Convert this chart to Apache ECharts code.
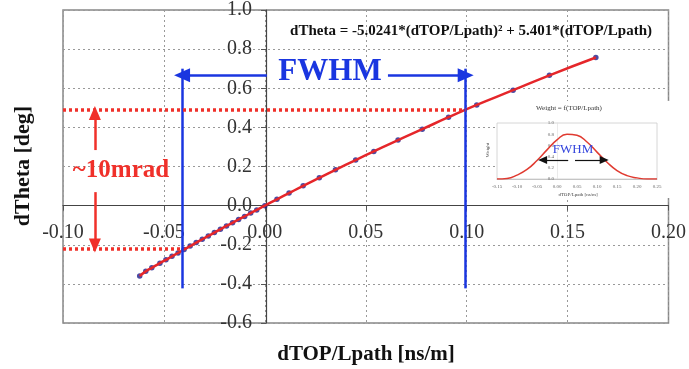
<!DOCTYPE html>
<html><head><meta charset="utf-8">
<script src="https://cdn.jsdelivr.net/npm/echarts@6.0.0/dist/echarts.min.js"></script>
<style>html,body{margin:0;padding:0;background:#fff}#c{width:689px;height:369px}</style>
</head><body><div id="c"></div>
<script>
// main data points (dTOP/Lpath, dTheta)
const pointX = [-0.062,-0.059,-0.056,-0.052,-0.049,-0.046,-0.043,-0.040,-0.037,-0.034,-0.031,-0.028,-0.025,-0.022,-0.019,-0.016,-0.013,-0.010,-0.007,-0.004,0.000,0.006,0.012,0.019,0.027,0.035,0.045,0.054,0.066,0.078,0.091,0.105,0.123,0.141,0.164];
const pointY = [-0.360,-0.336,-0.318,-0.294,-0.277,-0.259,-0.242,-0.224,-0.207,-0.189,-0.172,-0.155,-0.138,-0.121,-0.104,-0.088,-0.071,-0.055,-0.038,-0.022,0.000,0.032,0.064,0.101,0.142,0.183,0.233,0.277,0.335,0.391,0.452,0.515,0.590,0.666,0.757];
// inset weight distribution
const weightX = [-0.15,-0.125,-0.10,-0.075,-0.05,-0.025,0.0,0.025,0.05,0.075,0.10,0.125,0.15,0.175,0.20,0.225,0.25];
const weightY = [0.0,0.01,0.07,0.17,0.33,0.52,0.70,0.80,0.78,0.66,0.48,0.30,0.15,0.06,0.02,0.0,0.0];
// annotation values
const fwhmLow = -0.041, fwhmHigh = 0.0995;
const fwhmTop = 0.70, fwhmBottom = -0.423, fwhmArrowY = 0.667;
const fwhmArrowStart = [0.001, 0.061];
const thetaLow = -0.222, thetaHigh = 0.489;
const mradX = -0.0842, mradUp = [0.284, 0.474], mradDown = [0.069, -0.204];
const insetArrowY = 0.34, insetArrow = [0.028, -0.036, 0.045, 0.118];

const serif = 'Liberation Serif';
const blue = '#1a36e0', red = '#f0302a';
const chart = echarts.init(document.getElementById('c'));

function seg(a, b, color, width, type, endSym, size) {
  return [
    {coord: a, symbol: 'none', lineStyle: {color: color, width: width, type: type}},
    {coord: b, symbol: endSym || 'none', symbolSize: size || 12}
  ];
}

// main grid geometry: 63..672 x, 10..323 y; axes cross at x=0 and y=0
const G = {left: 63, right: 17, top: 10, bottom: 46};
const gw = 689 - G.left - G.right, gh = 369 - G.top - G.bottom;
const xZeroOffset = -(gw * (0 - -0.1) / 0.3);
const yZeroOffset = -(gh * (0 - -0.6) / 1.6);

chart.setOption({
  animation: false,
  grid: [
    Object.assign({show: true, borderColor: '#888', borderWidth: 1.5, containLabel: false}, G),
    {left: 497, width: 160, top: 123, height: 56, show: true, borderColor: '#ccc', borderWidth: 0.8, z: 3, containLabel: false}
  ],
  xAxis: [
    {type: 'value', gridIndex: 0, min: -0.1, max: 0.2, interval: 0.05, position: 'bottom', offset: yZeroOffset,
     axisLine: {onZero: false, lineStyle: {color: '#444', width: 1.2}},
     axisTick: {show: true, length: 5, lineStyle: {color: '#555'}},
     axisLabel: {fontFamily: serif, fontSize: 20, color: '#333', margin: 17, formatter: v => v.toFixed(2)},
     splitLine: {show: true, lineStyle: {color: '#999', type: [2, 3], width: 1}}},
    {type: 'value', gridIndex: 1, min: -0.15, max: 0.25, interval: 0.05, z: 3,
     axisLine: {onZero: false, lineStyle: {color: '#bbb', width: 0.8}},
     axisTick: {show: false},
     axisLabel: {fontFamily: serif, fontSize: 5, color: '#666', margin: 5, formatter: v => v.toFixed(2)},
     splitLine: {show: false}}
  ],
  yAxis: [
    {type: 'value', gridIndex: 0, min: -0.6, max: 1.0, interval: 0.2, position: 'left', offset: xZeroOffset,
     axisLine: {onZero: false, lineStyle: {color: '#444', width: 1.2}},
     axisTick: {show: true, length: 5, lineStyle: {color: '#555'}},
     axisLabel: {fontFamily: serif, fontSize: 20, color: '#333', margin: 14, formatter: v => v.toFixed(1)},
     splitLine: {show: true, lineStyle: {color: '#999', type: [2, 3], width: 1}}},
    {type: 'value', gridIndex: 1, min: 0, max: 1, interval: 0.2, z: 3, position: 'left', offset: -60,
     axisLine: {onZero: false, lineStyle: {color: '#ddd', width: 0.6}},
     axisTick: {show: false},
     axisLabel: {fontFamily: serif, fontSize: 5, color: '#666', margin: 3, formatter: v => v.toFixed(1)},
     splitLine: {show: false}}
  ],
  series: [
    {type: 'scatter', xAxisIndex: 0, yAxisIndex: 0, z: 2,
     data: pointX.map((x, i) => [x, pointY[i]]), symbolSize: 5.5,
     itemStyle: {color: '#1e1e8c'}},
    {type: 'line', xAxisIndex: 0, yAxisIndex: 0, z: 3, smooth: true, showSymbol: false,
     data: pointX.map((x, i) => [x, pointY[i]]),
     lineStyle: {color: '#e5262a', width: 2.5}},
    {type: 'line', xAxisIndex: 0, yAxisIndex: 0, z: 5, data: [],
     markLine: {silent: true, animation: false, label: {show: false},
       data: [
         seg([fwhmLow, fwhmTop], [fwhmLow, fwhmBottom], blue, 2.5, 'solid'),
         seg([fwhmHigh, fwhmTop], [fwhmHigh, fwhmBottom], blue, 2.5, 'solid'),
         seg([-0.1, thetaHigh], [fwhmHigh, thetaHigh], red, 3.5, [3, 3]),
         seg([-0.1, thetaLow], [fwhmLow, thetaLow], red, 3.5, [3, 3]),
         seg([fwhmArrowStart[0], fwhmArrowY], [fwhmLow, fwhmArrowY], blue, 2.5, 'solid', 'triangle', [14, 16]),
         seg([fwhmArrowStart[1], fwhmArrowY], [fwhmHigh, fwhmArrowY], blue, 2.5, 'solid', 'triangle', [14, 16]),
         seg([mradX, mradUp[0]], [mradX, mradUp[1]], red, 2.5, 'solid', 'triangle', [12, 14]),
         seg([mradX, mradDown[0]], [mradX, mradDown[1]], red, 2.5, 'solid', 'triangle', [12, 14])
       ]}},
    {type: 'line', xAxisIndex: 1, yAxisIndex: 1, z: 4, smooth: true, showSymbol: false,
     data: weightX.map((x, i) => [x, weightY[i]]),
     lineStyle: {color: '#e03a30', width: 1.5},
     markLine: {silent: true, animation: false, label: {show: false},
       data: [
         seg([insetArrow[0], insetArrowY], [insetArrow[1], insetArrowY], '#111', 1.2, 'solid', 'triangle', [8, 9]),
         seg([insetArrow[2], insetArrowY], [insetArrow[3], insetArrowY], '#111', 1.2, 'solid', 'triangle', [8, 9])
       ]}}
  ],
  graphic: [
    {type: 'rect', z: 1, silent: true, shape: {x: 497, y: 101, width: 173, height: 97}, style: {fill: '#fff'}},
    {type: 'text', z: 10, x: 471, y: 31, style: {text: 'dTheta = -5.0241*(dTOP/Lpath)² + 5.401*(dTOP/Lpath)', fontFamily: serif, fontWeight: 'bold', fontSize: 15, fill: '#111', align: 'center', verticalAlign: 'middle'}},
    {type: 'text', z: 10, x: 330, y: 72, style: {text: 'FWHM', fontFamily: serif, fontWeight: 'bold', fontSize: 31, fill: blue, align: 'center', verticalAlign: 'middle'}},
    {type: 'text', z: 10, x: 121, y: 171, style: {text: '~10mrad', fontFamily: serif, fontWeight: 'bold', fontSize: 25, fill: red, align: 'center', verticalAlign: 'middle'}},
    {type: 'text', z: 10, x: 366, y: 355, style: {text: 'dTOP/Lpath [ns/m]', fontFamily: serif, fontWeight: 'bold', fontSize: 21, fill: '#111', align: 'center', verticalAlign: 'middle'}},
    {type: 'text', z: 10, x: 23, y: 166, rotation: Math.PI / 2, style: {text: 'dTheta [deg]', fontFamily: serif, fontWeight: 'bold', fontSize: 22, fill: '#111', align: 'center', verticalAlign: 'middle'}},
    {type: 'text', z: 10, x: 569, y: 108, style: {text: 'Weight = f(TOP/Lpath)', fontFamily: serif, fontSize: 7, fill: '#333', align: 'center', verticalAlign: 'middle'}},
    {type: 'text', z: 10, x: 578, y: 195, style: {text: 'dTOP/Lpath [ns/m]', fontFamily: serif, fontSize: 5, fill: '#444', align: 'center', verticalAlign: 'middle'}},
    {type: 'text', z: 10, x: 488, y: 150, rotation: Math.PI / 2, style: {text: 'Weight', fontFamily: serif, fontSize: 5, fill: '#444', align: 'center', verticalAlign: 'middle'}},
    {type: 'text', z: 10, x: 573, y: 150, style: {text: 'FWHM', fontFamily: serif, fontSize: 13, fill: '#3344dd', align: 'center', verticalAlign: 'middle'}}
  ]
});
</script>
</body></html>
